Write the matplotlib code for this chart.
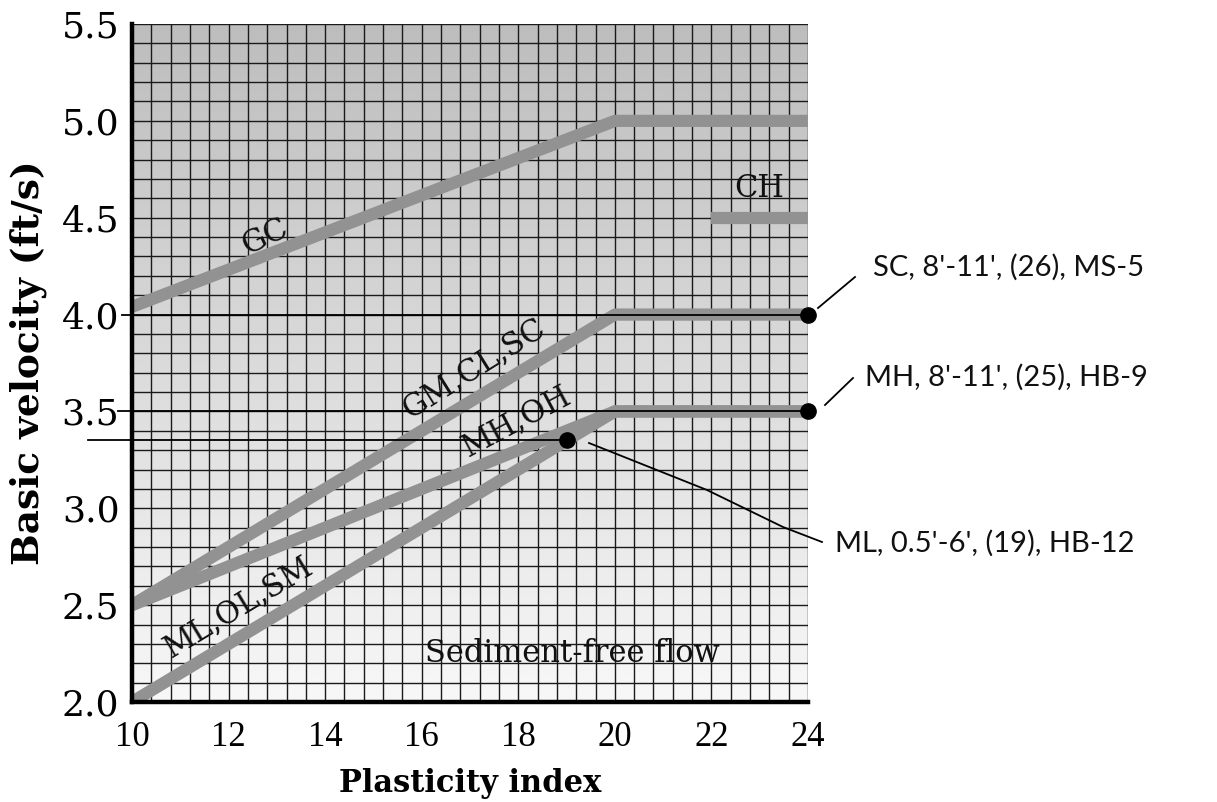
import numpy as np
import matplotlib
matplotlib.use("Agg")
import matplotlib.pyplot as plt
from matplotlib.lines import Line2D

# Design curves: basic velocity (ft/s) versus plasticity index
gc_pi = [10, 20, 24]
gc_v = [4.04, 5.0, 5.0]
ch_pi = [22, 24]
ch_v = [4.5, 4.5]
gmclsc_pi = [10, 20, 24]
gmclsc_v = [2.5, 4.0, 4.0]
mhoh_pi = [10, 20, 24]
mhoh_v = [2.5, 3.5, 3.5]
mlolsm_pi = [10, 20, 24]
mlolsm_v = [2.0, 3.5, 3.5]

# Sample points
sample_pi = [24, 24, 19]
sample_v = [4.0, 3.5, 3.35]
sample_guide_start = [9.79, 9.71, 9.09]
sample_notes = ["SC, 8'-11', (26), MS-5",
                "MH, 8'-11', (25), HB-9",
                "ML, 0.5'-6', (19), HB-12"]

x_ticks = [10, 12, 14, 16, 18, 20, 22, 24]
y_ticks = [2.0, 2.5, 3.0, 3.5, 4.0, 4.5, 5.0, 5.5]

W, H = 1217, 802
fig = plt.figure(figsize=(W / 100, H / 100), dpi=100)
ax_l, ax_r, ax_t, ax_b = 132, 808, 24, 702
ax = fig.add_axes([ax_l / W, 1 - ax_b / H, (ax_r - ax_l) / W, (ax_b - ax_t) / H])
ax.set_xlim(10, 24)
ax.set_ylim(2.0, 5.5)

# shaded chart paper: darker at the top, fading towards the bottom
grad = np.linspace(0.97, 0.74, 256).reshape(-1, 1)
ax.imshow(grad, cmap="gray", vmin=0, vmax=1, aspect="auto",
          extent=[10, 24, 2.0, 5.5], origin="lower", zorder=0, interpolation="bilinear")

# fine grid
ax.set_xticks(np.arange(10, 24.01, 0.4), minor=True)
ax.set_yticks(np.arange(2.0, 5.501, 0.1), minor=True)
ax.grid(which="minor", color="#1a1a1a", linewidth=1.0, zorder=1)
ax.grid(which="major", color="#1a1a1a", linewidth=1.0, zorder=1)
ax.set_axisbelow(False)

serif = ["DejaVu Serif"]
ax.set_xticks(x_ticks)
ax.set_yticks(y_ticks)
ax.set_xticklabels([str(v) for v in x_ticks], family=["Liberation Serif"], fontsize=25)
ax.set_yticklabels([f"{v:.1f}" for v in y_ticks], family=serif, fontsize=26)
ax.tick_params(which="both", length=0)
ax.tick_params(axis="x", pad=14)
ax.tick_params(axis="y", pad=9)

for s in ("top", "right"):
    ax.spines[s].set_visible(False)
for s in ("left", "bottom"):
    ax.spines[s].set_linewidth(3.2)
    ax.spines[s].set_color("black")
    ax.spines[s].set_zorder(6)

band = dict(color="#929292", linewidth=8.8, solid_capstyle="butt",
            solid_joinstyle="round", zorder=3)
for xs, ys in [(gc_pi, gc_v), (ch_pi, ch_v), (gmclsc_pi, gmclsc_v),
               (mhoh_pi, mhoh_v), (mlolsm_pi, mlolsm_v)]:
    ax.plot(xs, ys, **band)

def screen_angle(slope, x, y):
    ang = np.degrees(np.arctan(slope))
    return ax.transData.transform_angles(np.array([ang]), np.array([[x, y]]))[0]

lab = dict(family=serif, fontsize=22, ha="center", va="center",
           rotation_mode="anchor", zorder=4, color="#111111")
ax.text(12.75, 4.40, "GC", rotation=screen_angle(0.1, 12.75, 4.4) + 4, **lab)
ax.text(17.07, 3.72, "GM,CL,SC", rotation=screen_angle(0.15, 17, 3.7) + 1, **lab)
ax.text(17.95, 3.45, "MH,OH", rotation=screen_angle(0.1, 18, 3.4) + 6, **lab)
ax.text(12.2, 2.49, "ML,OL,SM", rotation=screen_angle(0.15, 12.2, 2.5), **lab)
ax.text(22.99, 4.65, "CH", **lab)
ax.text(19.13, 2.25, "Sediment-free flow", **lab)

# guide lines to the sample points
for x0, x1, yv in zip(sample_guide_start, sample_pi, sample_v):
    ax.plot([x0, x1], [yv, yv], color="black", linewidth=1.3, clip_on=False, zorder=5)
ax.plot(sample_pi, sample_v, "o", color="black", markersize=11, clip_on=False, zorder=7)

ax.set_xlabel("Plasticity index", family=serif, fontsize=22, fontweight="bold")
ax.xaxis.set_label_coords(0.5, -0.098)
ax.set_ylabel("Basic velocity (ft/s)", family=serif, fontsize=27, fontweight="bold")
ax.yaxis.set_label_coords(-0.126, 0.5)

# handwritten notes on the right
hand = dict(family=["Lato", "DejaVu Sans"], fontsize=21, color="#111111", va="center")
note_xy = [(873, 267), (865, 377), (835, 543)]
for (px, py), txt in zip(note_xy, sample_notes):
    fig.text(px / W, 1 - py / H, txt, **hand)

leaders = [[(818, 308), (855, 277)],
           [(825, 405), (853, 378)],
           [(589, 443), (707, 490), (783, 527), (822, 542)]]
for pts in leaders:
    xs = [p[0] / W for p in pts]
    ys = [1 - p[1] / H for p in pts]
    fig.add_artist(Line2D(xs, ys, color="black", linewidth=1.3, transform=fig.transFigure))

fig.savefig("out.png", dpi=100)
